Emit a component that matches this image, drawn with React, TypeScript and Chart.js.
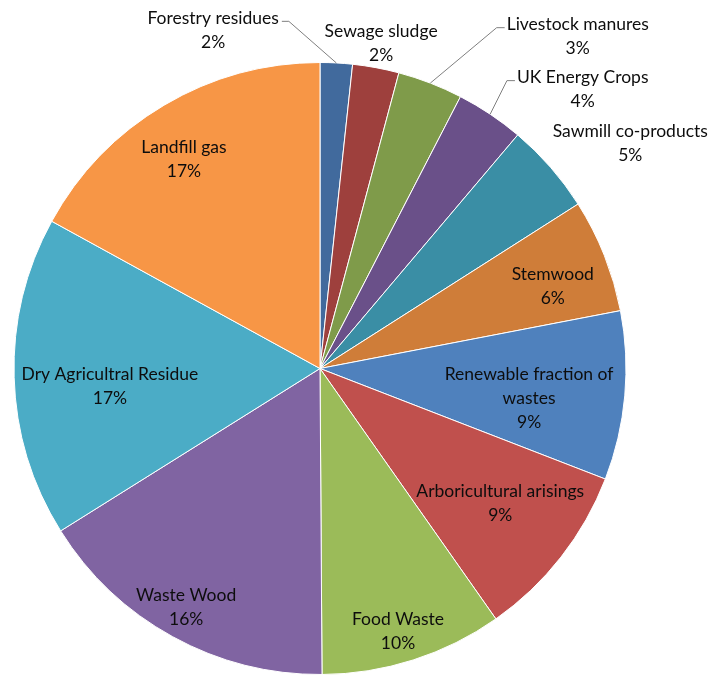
import React, { useEffect, useRef } from "react";
import { Chart, registerables } from "chart.js";

Chart.register(...registerables);

// ---- data (clockwise from 12 o'clock) ----
const categories = [
  "Forestry residues",
  "Sewage sludge",
  "Livestock manures",
  "UK Energy Crops",
  "Sawmill co-products",
  "Stemwood",
  "Renewable fraction of\nwastes",
  "Arboricultural arisings",
  "Food Waste",
  "Waste Wood",
  "Dry Agricultral Residue",
  "Landfill gas",
];
const values = [1.7, 2.45, 3.44, 3.59, 4.79, 6.0, 8.91, 9.37, 9.64, 16.2, 16.89, 17.01];
const colors = [
  "#416A9D",
  "#9E403D",
  "#7F9B4A",
  "#6A5089",
  "#3A8EA5",
  "#CF7D39",
  "#4F81BD",
  "#C0504D",
  "#9BBB59",
  "#8064A2",
  "#4BACC6",
  "#F79646",
];

// ---- label placement style: angle offset (deg) from slice middle, radius factor, leader side ----
const labelAngleOffset = [-20.6, 0.1, 16.7, 9.5, 5.2, 2.2, 2.9, -1.3, 1.2, 0.5, -3.1, -2.4];
const labelRadiusFactor = [1.159, 1.082, 1.373, 1.252, 1.252, 0.807, 0.69, 0.735, 0.896, 0.894, 0.689, 0.816];
const labelLeader = ["right", "none", "left", "left", "none", "none", "none", "none", "none", "none", "none", "none"];

const FONT = "17.5px Lato, 'Open Sans', sans-serif";
const LINE_H = 24;

const labelPlugin = {
  id: "sliceLabels",
  afterDatasetsDraw(chart: any) {
    const ctx = chart.ctx;
    const meta = chart.getDatasetMeta(0);
    const data = chart.data.datasets[0].data as number[];
    const total = data.reduce((a, b) => a + b, 0);
    ctx.save();
    ctx.font = FONT;
    ctx.fillStyle = "#0D0D0D";
    ctx.textAlign = "center";
    ctx.textBaseline = "middle";
    meta.data.forEach((arc: any, i: number) => {
      const p = arc.getProps(["x", "y", "startAngle", "endAngle", "outerRadius"], true);
      const mid = (p.startAngle + p.endAngle) / 2;
      const a = mid + (labelAngleOffset[i] * Math.PI) / 180;
      const r = p.outerRadius * labelRadiusFactor[i];
      const cx = p.x + Math.cos(a) * r;
      const cy = p.y + Math.sin(a) * r;
      const pct = Math.round((data[i] / total) * 100) + "%";
      const lines = String(chart.data.labels[i]).split("\n").concat([pct]);
      const n = lines.length;
      let maxW = 0;
      lines.forEach((ln, k) => {
        const y = cy + (k - (n - 1) / 2) * LINE_H;
        ctx.fillText(ln, cx, y);
        maxW = Math.max(maxW, ctx.measureText(ln).width);
      });
      const side = labelLeader[i];
      if (side !== "none") {
        const firstY = cy - ((n - 1) / 2) * LINE_H + 3;
        const edgeX = p.x + Math.cos(mid) * p.outerRadius;
        const edgeY = p.y + Math.sin(mid) * p.outerRadius;
        let startX: number, elbowX: number;
        if (side === "right") {
          startX = cx + maxW / 2 + 3;
          elbowX = startX + 7;
        } else {
          startX = cx - maxW / 2 - 2;
          elbowX = startX - 8;
        }
        ctx.beginPath();
        ctx.strokeStyle = "#7F7F7F";
        ctx.lineWidth = 1;
        ctx.moveTo(startX, firstY);
        ctx.lineTo(elbowX, firstY);
        ctx.lineTo(edgeX, edgeY);
        ctx.stroke();
      }
    });
    ctx.restore();
  },
};

export default function App() {
  const ref = useRef<HTMLCanvasElement | null>(null);
  useEffect(() => {
    if (!ref.current) return;
    const chart = new Chart(ref.current, {
      type: "pie",
      data: {
        labels: categories,
        datasets: [
          {
            data: values,
            backgroundColor: colors,
            borderColor: "#FFFFFF",
            borderWidth: 1,
          },
        ],
      },
      options: {
        animation: false,
        responsive: false,
        maintainAspectRatio: false,
        layout: { padding: { left: 13, right: 88, top: 62, bottom: 0 } },
        plugins: {
          legend: { display: false },
          tooltip: { enabled: false },
          title: { display: false },
        },
      },
      plugins: [labelPlugin],
    });
    return () => chart.destroy();
  }, []);
  return (
    <div style={{ position: "fixed", left: 0, top: 0, width: 715, height: 675, background: "#fff" }}>
      <canvas ref={ref} width={715} height={675} style={{ width: 715, height: 675, display: "block" }} />
    </div>
  );
}
